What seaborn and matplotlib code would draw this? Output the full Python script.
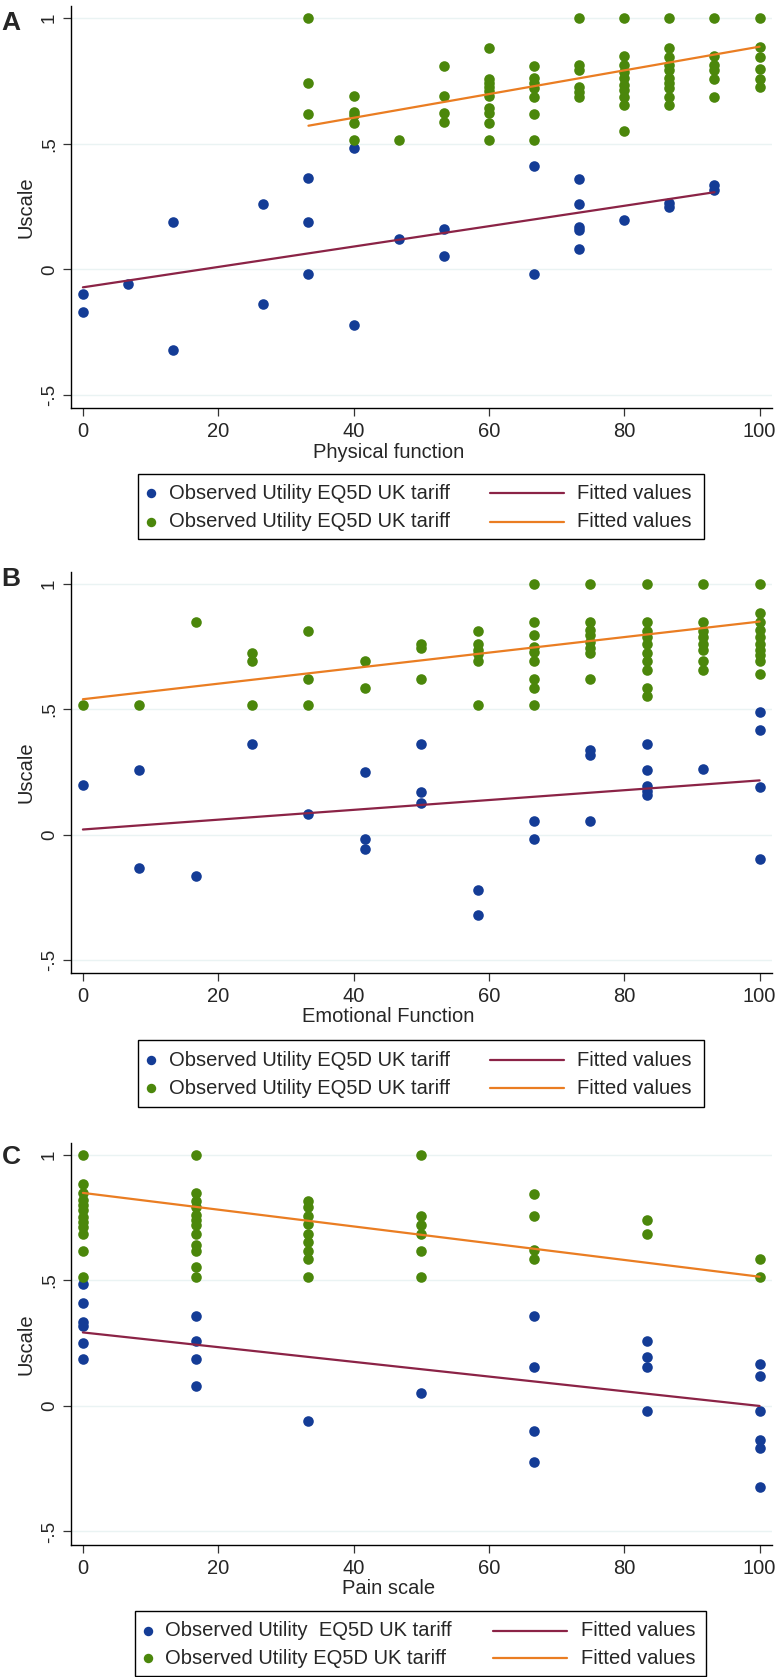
import matplotlib
matplotlib.use("Agg")
import matplotlib.pyplot as plt
import seaborn as sns
import pandas as pd
from matplotlib.lines import Line2D
from matplotlib.patches import Rectangle

# ---------------- data ----------------
A_xlabel = "Physical function"
A_blue_levels = [0, 6.67, 13.33, 26.67, 33.33, 40, 46.67, 53.33, 66.67, 73.33, 80, 86.67, 93.33]
A_blue_values = [[-0.097, -0.169], [-0.058], [0.189, -0.321], [0.259, -0.137], [0.363, 0.189, -0.019],
                 [0.485, -0.223], [0.122], [0.159, 0.053], [0.413, -0.019],
                 [0.36, 0.259, 0.17, 0.157, 0.08], [0.197], [0.266, 0.25], [0.336, 0.316]]
A_green_levels = [33.33, 40, 46.67, 53.33, 60, 66.67, 73.33, 80, 86.67, 93.33, 100]
A_green_values = [[1.0, 0.744, 0.619],
                  [0.691, 0.628, 0.615, 0.584, 0.515],
                  [0.515],
                  [0.811, 0.691, 0.621, 0.587],
                  [0.880, 0.760, 0.744, 0.725, 0.710, 0.691, 0.641, 0.621, 0.584, 0.515],
                  [0.811, 0.761, 0.744, 0.721, 0.688, 0.619, 0.515],
                  [1.0, 0.814, 0.794, 0.728, 0.708, 0.688],
                  [1.0, 0.850, 0.814, 0.788, 0.761, 0.734, 0.714, 0.688, 0.655, 0.551],
                  [1.0, 0.883, 0.847, 0.814, 0.794, 0.761, 0.741, 0.721, 0.688, 0.655],
                  [1.0, 0.850, 0.814, 0.794, 0.758, 0.688],
                  [1.0, 0.887, 0.847, 0.797, 0.758, 0.725]]
A_blue_fit_x = [0, 93.33]
A_blue_fit_y = [-0.072, 0.307]
A_green_fit_x = [33.33, 100]
A_green_fit_y = [0.572, 0.887]

B_xlabel = "Emotional Function"
B_levels = [0, 8.33, 16.67, 25, 33.33, 41.67, 50, 58.33, 66.67, 75, 83.33, 91.67, 100]
B_blue_values = [[0.197], [0.259, -0.135], [-0.166], [0.361], [0.082], [0.251, -0.016, -0.056],
                 [0.361, 0.171, 0.124], [-0.222, -0.321], [0.052, -0.017], [0.336, 0.317, 0.053],
                 [0.363, 0.259, 0.193, 0.173, 0.157], [0.263], [0.487, 0.416, 0.19, -0.096]]
B_green_values = [[0.515], [0.515], [0.847], [0.726, 0.691, 0.515], [0.811, 0.62, 0.515],
                  [0.691, 0.586], [0.761, 0.744, 0.62],
                  [0.811, 0.761, 0.737, 0.721, 0.691, 0.515],
                  [1.0, 0.847, 0.797, 0.75, 0.73, 0.691, 0.62, 0.586, 0.515],
                  [1.0, 0.847, 0.817, 0.797, 0.77, 0.744, 0.726, 0.62],
                  [1.0, 0.847, 0.814, 0.79, 0.761, 0.726, 0.691, 0.655, 0.586, 0.551],
                  [1.0, 0.847, 0.814, 0.79, 0.761, 0.737, 0.691, 0.655],
                  [1.0, 0.883, 0.847, 0.817, 0.79, 0.761, 0.737, 0.717, 0.691, 0.639]]
B_blue_fit_x = [0, 100]
B_blue_fit_y = [0.02, 0.216]
B_green_fit_x = [0, 100]
B_green_fit_y = [0.54, 0.85]

C_xlabel = "Pain scale"
C_levels = [0, 16.67, 33.33, 50, 66.67, 83.33, 100]
C_blue_values = [[0.485, 0.412, 0.336, 0.318, 0.249, 0.188],
                 [0.359, 0.259, 0.188, 0.08],
                 [-0.058],
                 [0.05],
                 [0.359, 0.156, -0.098, -0.224],
                 [0.26, 0.196, 0.156, -0.019],
                 [0.167, 0.121, -0.019, -0.135, -0.169, -0.321]]
C_green_values = [[1.0, 0.883, 0.849, 0.82, 0.8, 0.78, 0.753, 0.733, 0.714, 0.687, 0.618, 0.515],
                  [1.0, 0.849, 0.817, 0.793, 0.76, 0.74, 0.72, 0.687, 0.641, 0.618, 0.552, 0.515],
                  [0.817, 0.793, 0.756, 0.727, 0.687, 0.654, 0.618, 0.584, 0.515],
                  [1.0, 0.756, 0.723, 0.684, 0.618, 0.515],
                  [0.846, 0.756, 0.623, 0.584],
                  [0.74, 0.687],
                  [0.585, 0.512]]
C_blue_fit_x = [0, 100]
C_blue_fit_y = [0.293, 0.0]
C_green_fit_x = [0, 100]
C_green_fit_y = [0.849, 0.515]

x_ticks = [0, 20, 40, 60, 80, 100]
y_ticks = [-0.5, 0, 0.5, 1]
y_ticklabels = ["-.5", "0", ".5", "1"]
obs_label = "Observed Utility EQ5D UK tariff"
obs_label_C = "Observed Utility  EQ5D UK tariff"
fit_label = "Fitted values"
y_label = "Uscale"

# ---------------- style ----------------
sns.set_style("white")
plt.rcParams["font.family"] = ["Liberation Sans", "DejaVu Sans"]

BLUE = "#143c96"
GREEN = "#4b870b"
MAROON = "#8b2346"
ORANGE = "#ea7d22"
GRID = "#eaf3f3"

W, H = 777, 1677
fig = plt.figure(figsize=(W / 100, H / 100), dpi=100)


def fx(px):
    return px / W


def fy(py):
    return 1 - py / H


def to_df(levels, values):
    xs, ys = [], []
    for lv, vals in zip(levels, values):
        for v in vals:
            xs.append(lv)
            ys.append(v)
    return pd.DataFrame({"x": xs, "y": ys})


AX_L, AX_R = 71, 772
panels = [
    dict(top=6, bottom=408.3, letter="A", letter_y=22.5, xlabel=A_xlabel, xlabel_y=452.3,
         blue=to_df(A_blue_levels, A_blue_values), green=to_df(A_green_levels, A_green_values),
         bfit=(A_blue_fit_x, A_blue_fit_y), gfit=(A_green_fit_x, A_green_fit_y),
         leg=dict(x0=138, x1=704, y0=474.3, y1=539.3, mx=151.4, tx=168.7, l0=490, l1=564, t2=577,
                  r1=493.3, r2=521.7, lab=obs_label)),
    dict(top=571.7, bottom=973.3, letter="B", letter_y=579, xlabel=B_xlabel, xlabel_y=1017,
         blue=to_df(B_levels, B_blue_values), green=to_df(B_levels, B_green_values),
         bfit=(B_blue_fit_x, B_blue_fit_y), gfit=(B_green_fit_x, B_green_fit_y),
         leg=dict(x0=138, x1=704, y0=1040, y1=1106.7, mx=151.4, tx=168.7, l0=490, l1=564, t2=577,
                  r1=1060, r2=1088, lab=obs_label)),
    dict(top=1142.7, bottom=1545, letter="C", letter_y=1157, xlabel=C_xlabel, xlabel_y=1588.7,
         blue=to_df(C_levels, C_blue_values), green=to_df(C_levels, C_green_values),
         bfit=(C_blue_fit_x, C_blue_fit_y), gfit=(C_green_fit_x, C_green_fit_y),
         leg=dict(x0=135, x1=706, y0=1610.7, y1=1676.3, mx=148, tx=165.3, l0=493, l1=567, t2=580.6,
                  r1=1630.7, r2=1658.3, lab=obs_label_C)),
]

for p in panels:
    ax = fig.add_axes([fx(AX_L), fy(p["bottom"]), fx(AX_R) - fx(AX_L), fy(p["top"]) - fy(p["bottom"])])
    sns.scatterplot(data=p["blue"], x="x", y="y", color=BLUE, s=58, linewidth=0, ax=ax, zorder=3)
    sns.scatterplot(data=p["green"], x="x", y="y", color=GREEN, s=58, linewidth=0, ax=ax, zorder=3)
    sns.lineplot(x=p["bfit"][0], y=p["bfit"][1], color=MAROON, lw=1.6, ax=ax, zorder=4)
    sns.lineplot(x=p["gfit"][0], y=p["gfit"][1], color=ORANGE, lw=1.6, ax=ax, zorder=4)

    ax.set_xlim(-1.76, 101.83)
    ax.set_ylim(-0.554, 1.049)
    ax.set_xticks(x_ticks)
    ax.set_xticklabels([str(t) for t in x_ticks])
    ax.set_yticks(y_ticks)
    ax.set_yticklabels(y_ticklabels, rotation=90, va="center")
    ax.yaxis.grid(True, color=GRID, lw=1.0)
    ax.xaxis.grid(False)
    ax.set_axisbelow(True)
    for s in ["top", "right"]:
        ax.spines[s].set_visible(False)
    for s in ["left", "bottom"]:
        ax.spines[s].set_color("black")
        ax.spines[s].set_linewidth(1.0)
    ax.tick_params(axis="x", direction="out", length=5.8, width=0.9, color="#333333",
                   labelsize=14.5, pad=4, bottom=True)
    ax.tick_params(axis="y", direction="out", length=5.8, width=0.9, color="#333333",
                   labelsize=13.5, pad=3.6, left=True)

    ax.set_xlabel(p["xlabel"], fontsize=14.5)
    ax.xaxis.set_label_coords(0.5, fy(p["xlabel_y"]), transform=fig.transFigure)
    ax.xaxis.label.set_va("center")
    ax.set_ylabel(y_label, fontsize=14.5)
    ax.yaxis.set_label_coords(fx(26), fy((p["top"] + p["bottom"]) / 2), transform=fig.transFigure)
    ax.yaxis.label.set_va("center")

    fig.text(fx(11), fy(p["letter_y"]), p["letter"], fontsize=19, fontweight="bold",
             ha="center", va="center")

    lg = p["leg"]
    fig.add_artist(Rectangle((fx(lg["x0"]), fy(lg["y1"])), fx(lg["x1"]) - fx(lg["x0"]),
                             fy(lg["y0"]) - fy(lg["y1"]), transform=fig.transFigure,
                             fill=False, ec="black", lw=1.0))
    for ry, mc, lc in [(lg["r1"], BLUE, MAROON), (lg["r2"], GREEN, ORANGE)]:
        fig.add_artist(Line2D([fx(lg["mx"])], [fy(ry)], marker="o", ls="none", color=mc,
                              ms=6.8, mew=0, transform=fig.transFigure))
        fig.text(fx(lg["tx"]), fy(ry), lg["lab"] if mc == BLUE else obs_label, fontsize=14.5,
                 ha="left", va="center")
        fig.add_artist(Line2D([fx(lg["l0"]), fx(lg["l1"])], [fy(ry), fy(ry)], color=lc, lw=1.6,
                              transform=fig.transFigure))
        fig.text(fx(lg["t2"]), fy(ry), fit_label, fontsize=14.5, ha="left", va="center")

fig.savefig("out.png", dpi=100, facecolor="white")
